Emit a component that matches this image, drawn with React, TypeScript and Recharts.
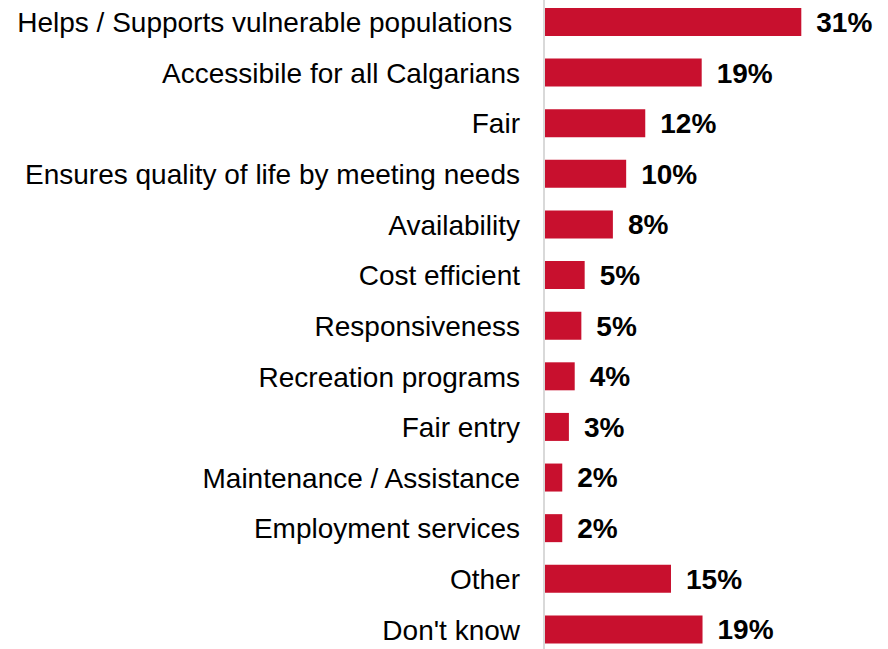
import React from "react";
import { BarChart, Bar, XAxis, YAxis, LabelList } from "recharts";

const categories = [
  "Helps / Supports vulnerable populations\u00a0",
  "Accessibile for all Calgarians",
  "Fair",
  "Ensures quality of life by meeting needs",
  "Availability",
  "Cost efficient",
  "Responsiveness",
  "Recreation programs",
  "Fair entry",
  "Maintenance / Assistance",
  "Employment services",
  "Other",
  "Don't know",
];

const values = [31, 19, 12.2, 9.9, 8.3, 4.9, 4.5, 3.7, 3.0, 2.2, 2.2, 15.3, 19.1];

const data = categories.map((name, i) => ({ name, value: values[i] }));

const FONT = "'Liberation Sans', Arial, sans-serif";

export default function App() {
  return (
    <div style={{ position: "absolute", left: 0, top: -3, width: 888, height: 658, background: "#fff" }}>
      <BarChart
        width={888}
        height={658}
        data={data}
        layout="vertical"
        margin={{ top: 0, right: 12, bottom: 0, left: 0 }}
        barSize={28}
      >
        <XAxis type="number" domain={[0, 40]} hide />
        <YAxis
          type="category"
          dataKey="name"
          width={544}
          tickLine={false}
          tickSize={0}
          tickMargin={24}
          axisLine={{ stroke: "#d9d9d9", strokeWidth: 2 }}
          tick={{ fill: "#000", fontSize: 28, fontFamily: FONT }}
          interval={0}
        />
        <Bar dataKey="value" fill="#C8102E" isAnimationActive={false}>
          <LabelList
            dataKey="value"
            position="right"
            offset={15}
            formatter={(v: number) => `${Math.round(v)}%`}
            style={{ fill: "#000", fontSize: 28, fontWeight: "bold", fontFamily: FONT }}
          />
        </Bar>
      </BarChart>
    </div>
  );
}
